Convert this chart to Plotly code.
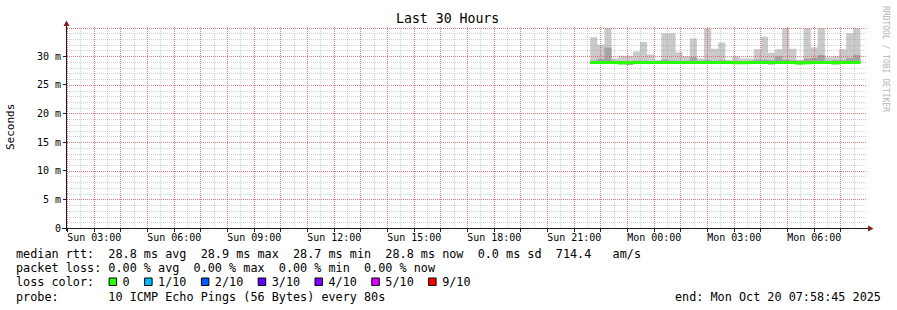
import plotly.graph_objects as go
import pandas as pd

# ---------------- data ----------------
first_column = "2025-10-19 21:36:00"     # start of first 16-minute consolidated column
column_minutes = 16
range_start = "2025-10-19 01:58:45"
range_end = "2025-10-20 07:58:45"

# outer smoke band (lowest / highest of 10 pings), ms
ping_lo = [28.7, 28.7, 28.7, 28.7, 28.5, 28.5, 28.7, 28.7, 28.7, 28.7,
           28.7, 28.7, 28.7, 28.7, 28.7, 28.7, 28.7, 28.7, 28.7, 28.7,
           28.7, 28.7, 28.7, 28.7, 28.7, 28.5, 28.7, 28.7, 28.7, 28.5,
           28.7, 28.7, 28.7, 28.7, 28.5, 28.7, 28.7, 28.7]
ping_hi = [33.3, 32.0, 34.9, 29.6, 30.1, 30.1, 30.8, 32.5, 30.3, 29.4,
           34.0, 34.0, 30.7, 30.0, 33.1, 29.6, 34.8, 31.3, 32.4, 29.4,
           30.0, 29.6, 29.6, 31.2, 33.4, 30.6, 31.2, 34.9, 31.3, 29.4,
           34.9, 31.5, 34.9, 29.8, 30.0, 31.2, 34.0, 34.9]
# inner smoke band (2nd lowest / 2nd highest ping), ms
ping_2 = [28.7, 28.7, 28.7, 28.7, 28.7, 28.5, 28.7, 28.7, 28.7, 28.7,
          28.7, 28.7, 28.7, 28.7, 28.7, 28.7, 28.7, 28.7, 28.7, 28.7,
          28.7, 28.7, 28.7, 28.7, 28.7, 28.6, 28.7, 28.7, 28.7, 28.7,
          28.7, 28.7, 28.7, 28.7, 28.7, 28.7, 28.7, 28.7]
ping_9 = [29.2, 29.5, 31.5, 29.2, 29.1, 29.1, 29.2, 29.2, 29.1, 29.1,
          29.4, 29.2, 29.2, 29.1, 29.8, 29.2, 29.3, 29.2, 29.3, 29.1,
          29.2, 29.1, 29.1, 29.4, 29.4, 29.3, 30.0, 29.4, 29.3, 29.2,
          29.6, 29.7, 30.2, 29.2, 29.3, 29.3, 29.7, 30.2]
median_rtt = [28.9, 28.9, 28.9, 28.9, 28.85, 28.85, 28.9, 28.9, 28.9, 28.9,
              28.9, 28.9, 28.9, 28.9, 28.9, 28.9, 28.9, 28.9, 28.9, 28.9,
              28.85, 28.85, 28.9, 28.9, 28.9, 28.9, 28.9, 28.9, 28.9, 28.8,
              28.85, 28.9, 28.9, 28.9, 28.85, 28.9, 28.9, 28.9]

y_ticks = [0, 5, 10, 15, 20, 25, 30]
y_ticktext = ["0", "5 m", "10 m", "15 m", "20 m", "25 m", "30 m"]

loss_labels = ["0", "1/10", "2/10", "3/10", "4/10", "5/10", "9/10"]
loss_colors = ["#26ff00", "#00b8ff", "#0059ff", "#5e00ff", "#7e00ff", "#dd00ff", "#ff0000"]

legend_rtt = "median rtt:  28.8 ms avg  28.9 ms max  28.7 ms min  28.8 ms now  0.0 ms sd  714.4   am/s"
legend_loss = "packet loss: 0.00 % avg  0.00 % max  0.00 % min  0.00 % now"
legend_probe = "probe:       10 ICMP Echo Pings (56 Bytes) every 80s"
end_text = "end: Mon Oct 20 07:58:45 2025"
title_text = "Last 30 Hours"
ylabel_text = "Seconds"
watermark = "RRDTOOL / TOBI OETIKER"

# ---------------- geometry ----------------
W, H = 897, 310
L, R, T, B = 67, 30, 27, 82
PW, PH = W - L - R, H - T - B
Y_MAX = 35.1
MONO = "DejaVu Sans Mono"


def px(x):
    return (x - L) / PW


def py(y):
    return (H - B - y) / PH


n = len(ping_hi)
t_edges = pd.date_range(first_column, periods=n + 1, freq=f"{column_minutes}min")


def stepped(vals):
    return list(vals) + [vals[-1]]


fig = go.Figure()

# smoke bands
for lo, hi, col in [(ping_lo, ping_hi, "#cacaca"), (ping_2, ping_9, "#a4a4a4")]:
    fig.add_trace(go.Scatter(x=t_edges, y=stepped(lo), mode="lines", line=dict(width=0, shape="hv"),
                             hoverinfo="skip", showlegend=False))
    fig.add_trace(go.Scatter(x=t_edges, y=stepped(hi), mode="lines", line=dict(width=0, shape="hv"),
                             fill="tonexty", fillcolor=col, hoverinfo="skip", showlegend=False))

# grid (drawn over the smoke, like rrdtool), snapped to pixel centres for crisp dotted lines
t0 = pd.Timestamp(range_start)
t1 = pd.Timestamp(range_end)
span = (t1 - t0)


def snap_t(t):
    p = (t - t0) / span * PW
    p = int(p) + 0.5
    ts = (t0 + span * (p / PW)).round("ms")
    return ts.strftime("%Y-%m-%d %H:%M:%S.%f")[:-3]


def snap_v(v):
    p = v / Y_MAX * PH
    p = int(round(p)) - 0.5
    return p / PH * Y_MAX


half_hours = pd.date_range(t0.ceil("30min"), t1, freq="30min")
minor_x, minor_y, major_x, major_y = [], [], [], []
for t in half_hours:
    ts = snap_t(t)
    if t.minute == 0:
        major_x += [ts, ts, None]
        major_y += [0, Y_MAX, None]
    else:
        minor_x += [ts, ts, None]
        minor_y += [0, Y_MAX, None]
t0s = t0.strftime("%Y-%m-%d %H:%M:%S")
t1s = t1.strftime("%Y-%m-%d %H:%M:%S")
for v in range(1, 36):
    if v > Y_MAX:
        break
    vs = snap_v(v)
    if v % 5 == 0:
        major_x += [t0s, t1s, None]
        major_y += [vs, vs, None]
    else:
        minor_x += [t0s, t1s, None]
        minor_y += [vs, vs, None]
fig.add_trace(go.Scatter(x=minor_x, y=minor_y, mode="lines",
                         line=dict(color="rgba(143,143,143,0.4)", width=1, dash="1px,1px"),
                         hoverinfo="skip", showlegend=False))
fig.add_trace(go.Scatter(x=major_x, y=major_y, mode="lines",
                         line=dict(color="rgba(222,79,79,0.75)", width=1, dash="1px,1px"),
                         hoverinfo="skip", showlegend=False))

# median line coloured by loss (0 loss -> green)
fig.add_trace(go.Scatter(x=t_edges, y=stepped(median_rtt), mode="lines",
                         line=dict(color=loss_colors[0], width=3, shape="hv"),
                         hoverinfo="skip", showlegend=False))

# x ticks
hours = pd.date_range(t0.ceil("h"), t1, freq="h")
x_text = [h.strftime("%a %H:%M") if h.hour % 3 == 0 else "" for h in hours]

fig.update_layout(
    width=W, height=H,
    margin=dict(l=L, r=R, t=T, b=B, pad=0),
    paper_bgcolor="white", plot_bgcolor="white",
    showlegend=False,
    font=dict(family=MONO, size=10, color="black"),
    xaxis=dict(range=[t0, t1], tickmode="array", tickvals=list(hours), ticktext=x_text,
               showgrid=False, zeroline=False, showline=False,
               ticks="outside", ticklen=3, tickcolor="#1f1f1f", ticklabelstandoff=-3,
               tickfont=dict(family=MONO, size=10, color="black")),
    yaxis=dict(range=[0, Y_MAX], tickmode="array", tickvals=y_ticks, ticktext=y_ticktext,
               showgrid=False, zeroline=False, showline=False,
               ticks="outside", ticklen=3, tickcolor="#1f1f1f",
               tickfont=dict(family=MONO, size=10, color="black")),
)

shapes = []
# axes with arrows
shapes.append(dict(type="line", xref="paper", yref="paper", x0=px(66.5), x1=px(66.5), y0=py(231), y1=py(24),
                   line=dict(color="#1f1f1f", width=1)))
shapes.append(dict(type="line", xref="paper", yref="paper", x0=px(62), x1=px(869), y0=py(228.5), y1=py(228.5),
                   line=dict(color="#1f1f1f", width=1)))
shapes.append(dict(type="path", xref="paper", yref="paper",
                   path=f"M {px(63.5)},{py(26)} L {px(69.5)},{py(26)} L {px(66.5)},{py(20.5)} Z",
                   fillcolor="#801f1f", line=dict(width=0)))
shapes.append(dict(type="path", xref="paper", yref="paper",
                   path=f"M {px(868)},{py(225.5)} L {px(868)},{py(231.5)} L {px(873.5)},{py(228.5)} Z",
                   fillcolor="#801f1f", line=dict(width=0)))

CW = 7.1
LX = 16
annotations = []


def text_at(x, y, s, size=11.8, xanchor="left", color="black", angle=0):
    annotations.append(dict(xref="paper", yref="paper", x=px(x), y=py(y), text=s.replace(" ", "\u00a0"),
                            showarrow=False, xanchor=xanchor, yanchor="middle", textangle=angle,
                            font=dict(family=MONO, size=size, color=color), borderpad=0, borderwidth=0))


text_at(447.5, 19, title_text, size=13.2, xanchor="center")
text_at(11, 127, ylabel_text, size=11, xanchor="center", angle=-90)
text_at(886, 59, watermark, size=8, xanchor="center", color="#b4b4b4", angle=90)
text_at(LX, 254, legend_rtt)
text_at(LX, 268, legend_loss)
text_at(LX, 297, legend_probe)
text_at(881, 297, end_text, xanchor="right")

# loss colour legend: text with gaps for boxes
loss_line = "loss color:  "
box_cols = []
for lab in loss_labels:
    box_cols.append(len(loss_line))
    loss_line += "  " + lab + "  "
text_at(LX, 282, loss_line.rstrip())
for c, col in zip(box_cols, loss_colors):
    x0 = LX + c * CW + 0.8
    shapes.append(dict(type="rect", xref="paper", yref="paper", x0=px(x0), x1=px(x0 + 7.5),
                       y0=py(285.5), y1=py(278), fillcolor=col, line=dict(color="black", width=1)))

fig.update_layout(shapes=shapes, annotations=annotations)
fig.write_html("out.html")
